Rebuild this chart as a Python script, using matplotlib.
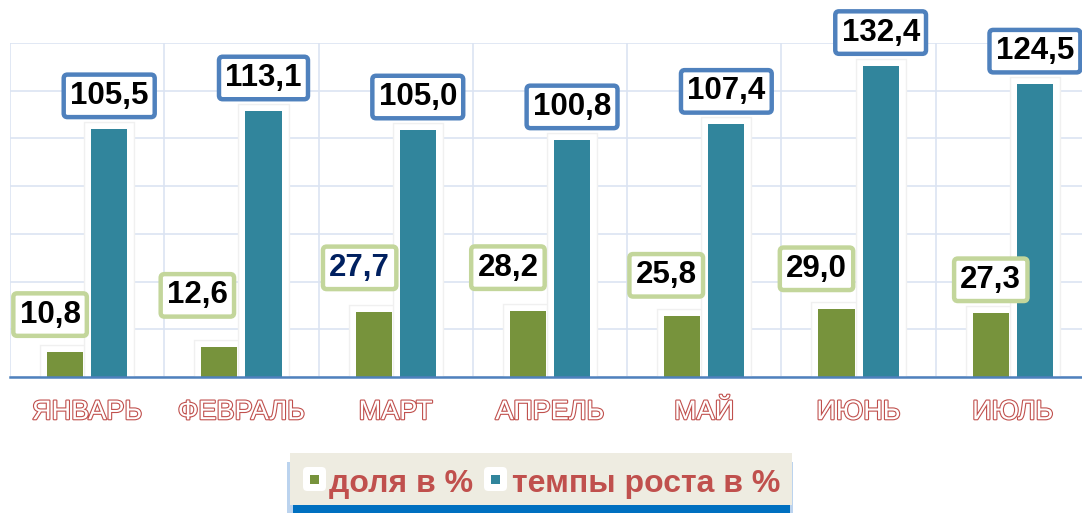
import matplotlib
matplotlib.use("Agg")
import matplotlib.pyplot as plt
import matplotlib.patheffects as pe
from matplotlib.patches import FancyBboxPatch, Rectangle
import numpy as np

# ---- data ----
months = ["ЯНВАРЬ", "ФЕВРАЛЬ", "МАРТ", "АПРЕЛЬ", "МАЙ", "ИЮНЬ", "ИЮЛЬ"]
share = [10.8, 12.6, 27.7, 28.2, 25.8, 29.0, 27.3]
growth = [105.5, 113.1, 105.0, 100.8, 107.4, 132.4, 124.5]
share_labels = ["10,8", "12,6", "27,7", "28,2", "25,8", "29,0", "27,3"]
growth_labels = ["105,5", "113,1", "105,0", "100,8", "107,4", "132,4", "124,5"]
series_names = ["доля в %", "темпы роста в %"]

# ---- styles ----
GREEN = "#77933C"
TEAL = "#31859C"
RED = "#C0504D"
W, H = 1082, 513
YMAX = 142
# label offsets (pixels) of share labels relative to bar top / centre
share_dx = [-15, -22, -14, -20, -16, -20, 0]
share_dy = [37, 52, 44, 43, 41, 40, 33]
share_colors = ["black", "black", "#002060", "black", "black", "black", "black"]

plt.rcParams['font.family'] = ['Liberation Sans', 'DejaVu Sans']
fig = plt.figure(figsize=(W / 100, H / 100), dpi=100)
fig.patch.set_facecolor("white")

ax_left = 10 / W
ax_right = 1090 / W
ax_top = 1 - 43 / H
ax_bottom = 1 - 377 / H
ax = fig.add_axes([ax_left, ax_bottom, ax_right - ax_left, ax_top - ax_bottom])
ax.set_facecolor("white")

x = np.arange(len(months))
bw = 0.234
off = 0.143

halo = [pe.SimplePatchShadow(offset=(-3, 0), shadow_rgbFace="#bdbdbd", alpha=0.5),
        pe.Stroke(linewidth=11, foreground="#f0f0f0"),
        pe.Stroke(linewidth=9, foreground="white")]
# halos first
ax.bar(x - off, share, bw, color=GREEN, zorder=2, path_effects=halo)
ax.bar(x + off, growth, bw, color=TEAL, zorder=2, path_effects=halo)
# bars on top
ax.bar(x - off, share, bw, color=GREEN, zorder=3)
ax.bar(x + off, growth, bw, color=TEAL, zorder=3)

ax.set_xlim(-0.5, len(months) - 0.5)
ax.set_ylim(0, YMAX)
ax.set_yticks(np.linspace(0, YMAX, 8))
ax.set_xticks(x)
ax.set_xticks(np.arange(-0.5, len(months), 1), minor=True)
ax.grid(True, which="major", axis="y", color="#DCE4F2", lw=1.2, zorder=0)
ax.grid(True, which="minor", axis="x", color="#DCE4F2", lw=1.2, zorder=0)
ax.tick_params(axis="y", left=False, labelleft=False)
ax.tick_params(axis="x", which="both", bottom=False, length=0, pad=16)
for s in ["top", "right", "left"]:
    ax.spines[s].set_visible(False)
ax.spines["bottom"].set_color("#4F81BD")
ax.spines["bottom"].set_linewidth(1.8)
ax.spines["bottom"].set_zorder(5)

ax.set_xticklabels(months, fontsize=19.5, color="white")
for t in ax.get_xticklabels():
    t.set_path_effects([pe.Stroke(linewidth=1.6, foreground=RED), pe.Normal()])

px2pt = 0.72
lbl_fs = 22.5
for i in range(len(months)):
    ax.annotate(growth_labels[i], xy=(x[i] + off, growth[i]),
                xytext=(0, 33 * px2pt), textcoords="offset points",
                ha="center", va="center", fontsize=lbl_fs, fontweight="bold",
                color="black", zorder=6, annotation_clip=False,
                bbox=dict(boxstyle="round,pad=0.2,rounding_size=0.12",
                          fc="white", ec="#4F81BD", lw=3.2))
    ax.annotate(share_labels[i], xy=(x[i] - off, share[i]),
                xytext=(share_dx[i] * px2pt, share_dy[i] * px2pt),
                textcoords="offset points",
                ha="center", va="center", fontsize=lbl_fs, fontweight="bold",
                color=share_colors[i], zorder=6, annotation_clip=False,
                bbox=dict(boxstyle="round,pad=0.2,rounding_size=0.12",
                          fc="white", ec="#C3D69B", lw=3.2))

# ---- legend (drawn manually) ----
def fx(px):
    return px / W


def fy(py):
    return 1 - py / H


fig.patches.append(Rectangle((fx(287), fy(513)), fx(793) - fx(287), fy(462) - fy(513),
                             transform=fig.transFigure, fc="#BBD3EE", ec="none", zorder=1))
fig.patches.append(Rectangle((fx(293), fy(513)), fx(790) - fx(293), fy(500) - fy(513),
                             transform=fig.transFigure, fc="#0070C0", ec="none", zorder=2))
fig.patches.append(Rectangle((fx(290), fy(505)), fx(792) - fx(290), fy(453) - fy(505),
                             transform=fig.transFigure, fc="#EEECE1", ec="none", zorder=3))

legend_items = [(series_names[0], GREEN, 303, 329), (series_names[1], TEAL, 484, 512)]
for name, col, bx, tx in legend_items:
    fig.patches.append(FancyBboxPatch((fx(bx), fy(491)), fx(bx + 23) - fx(bx), fy(467) - fy(491),
                                      boxstyle="round,pad=0,rounding_size=0.004",
                                      transform=fig.transFigure, fc="white", ec="none",
                                      zorder=4, mutation_aspect=W / H))
    cx, cy = bx + 11.5, 479
    fig.patches.append(Rectangle((fx(cx - 4.5), fy(cy + 4.5)), fx(9), 9 / H,
                                 transform=fig.transFigure, fc=col, ec="none", zorder=5))
    fig.text(fx(tx), fy(492), name, fontsize=23, fontweight="bold", color=RED,
             ha="left", va="baseline", zorder=6)

fig.savefig("out.png", dpi=100)
